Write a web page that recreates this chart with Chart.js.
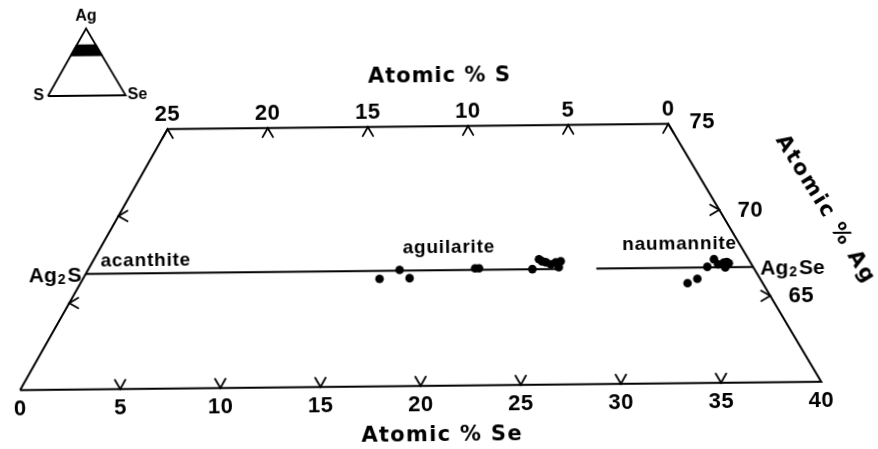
<!DOCTYPE html>
<html><head><meta charset="utf-8">
<script src="https://cdn.jsdelivr.net/npm/chart.js@4.4.0/dist/chart.umd.min.js"></script>
<style>
html,body{margin:0;padding:0;background:#fff;overflow:hidden}
#wrap{position:relative;width:878px;height:449px;transform:rotate(-0.6deg);transform-origin:50% 50%}
#main{position:absolute;left:0;top:0}
#inset{position:absolute;left:1px;top:-3px}
</style></head><body>
<div id="wrap"><canvas id="main" width="878" height="449"></canvas><canvas id="inset" width="160" height="110"></canvas></div>
<script>
// ---------- data ----------
const seTicks = [0, 5, 10, 15, 20, 25, 30, 35, 40];     // Atomic % Se (bottom, Ag = 60)
const sTicks = [25, 20, 15, 10, 5, 0];                   // Atomic % S (top, Ag = 75)
const agTicks = [70, 65];                                // Atomic % Ag (sides)
const agMin = 60, agMax = 75;                            // Ag range of the section
const agTie = 200 / 3;                                   // Ag2S – Ag2Se join
const tieStartSe = [0, 25.5];
const tieEndSe = [23.6, 100 / 3];
const aguilariteSe = [14.90, 15.65, 16.39, 19.40, 19.60, 22.30, 22.35, 22.56, 22.78, 23.09, 23.28, 23.50, 23.57];
const aguilariteAg = [66.21, 66.72, 66.23, 66.76, 66.76, 66.68, 67.25, 67.13, 67.07, 66.95, 67.06, 67.12, 66.78];
const naumanniteSe = [30.49, 30.86, 31.02, 31.14, 31.49, 31.73, 31.94, 31.87, 32.00];
const naumanniteAg = [65.78, 66.02, 66.71, 67.14, 66.85, 66.95, 66.66, 66.98, 66.90];

// ---------- ternary helpers ----------
const H = Math.sqrt(3) / 2;
const tern = (se, ag) => ({ x: se + ag / 2, y: ag * H });
const outline = [[0, agMin], [100 - agMin, agMin], [100 - agMax, agMax], [0, agMax], [0, agMin]].map(p => tern(p[0], p[1]));
const pts = (se, ag) => se.map((v, i) => tern(v, ag[i]));
const FONT = '"Liberation Sans", Arial, sans-serif';
const FONT2 = '"DejaVu Sans", sans-serif';

const lineDs = (data) => ({ data, showLine: true, borderColor: '#000', borderWidth: 2, pointRadius: 0, fill: false, tension: 0 });

function chevron(ctx, px, py, ang) {
  const L = 10.5, a = Math.PI / 6;
  ctx.beginPath();
  ctx.moveTo(px - L * Math.cos(ang - a), py - L * Math.sin(ang - a));
  ctx.lineTo(px, py);
  ctx.lineTo(px - L * Math.cos(ang + a), py - L * Math.sin(ang + a));
  ctx.stroke();
}
function txt(ctx, s, x, y, size, align, spacing, base, fam) {
  ctx.font = 'bold ' + size + 'px ' + (fam || FONT);
  ctx.textAlign = align || 'center';
  ctx.textBaseline = base || 'middle';
  try { ctx.letterSpacing = (spacing || 0) + 'px'; } catch (e) {}
  ctx.fillText(s, x, y);
}
function formula(ctx, a, b, x, y, align) {
  // draws e.g. Ag2S with a lowered small "2"
  ctx.textBaseline = 'alphabetic';
  try { ctx.letterSpacing = '0px'; } catch (e) {}
  ctx.font = 'bold 21px ' + FONT; const wa = ctx.measureText(a).width;
  const wb = ctx.measureText(b).width;
  ctx.font = 'bold 14px ' + FONT; const w2 = ctx.measureText('2').width;
  const total = wa + w2 + 3 + wb;
  let x0 = align === 'right' ? x - total : x;
  ctx.textAlign = 'left';
  ctx.font = 'bold 21px ' + FONT; ctx.fillText(a, x0, y + 7.5);
  ctx.font = 'bold 14px ' + FONT; ctx.fillText('2', x0 + wa + 1, y + 9.5);
  ctx.font = 'bold 21px ' + FONT; ctx.fillText(b, x0 + wa + w2 + 3, y + 7.5);
}

const decor = {
  id: 'decor',
  afterDatasetsDraw(chart) {
    const { ctx, scales: { x: xs, y: ys }, chartArea } = chart;
    const P = (se, ag) => { const t = tern(se, ag); return [xs.getPixelForValue(t.x), ys.getPixelForValue(t.y)]; };
    ctx.save();
    ctx.strokeStyle = '#000'; ctx.fillStyle = '#000'; ctx.lineWidth = 1.8; ctx.lineCap = 'round';
    // chevron tick marks
    seTicks.slice(1, -1).forEach(se => { const [px, py] = P(se, agMin); chevron(ctx, px, py, Math.PI / 2); });
    sTicks.forEach(s => { const [px, py] = P(100 - agMax - s, agMax); chevron(ctx, px, py, -Math.PI / 2); });
    agTicks.forEach(ag => { const [px, py] = P(0, ag); chevron(ctx, px, py, Math.PI); });
    agTicks.forEach(ag => { const [px, py] = P(100 - ag, ag); chevron(ctx, px, py, 0); });
    // tick labels
    seTicks.forEach(se => { const [px, py] = P(se, agMin); txt(ctx, String(se), px, py + 19, 22, 'center', 0.5); });
    sTicks.forEach(s => { const [px, py] = P(100 - agMax - s, agMax); txt(ctx, String(s), px, py - 14, 22, 'center', 0.5); });
    agTicks.forEach(ag => { const [px, py] = P(100 - ag, ag); txt(ctx, String(ag), px + 31, py + 1, 22, 'center', 0.5); });
    { const [px, py] = P(100 - agMax, agMax); txt(ctx, String(agMax), px + 34, py - 1, 22, 'center', 0.5); }
    // axis titles
    const cx = (chartArea.left + chartArea.right) / 2;
    { const [, py] = P(0, agMax); txt(ctx, 'Atomic % S', cx + 2, py - 50, 21, 'center', 1, 'middle', FONT2); }
    { const [, py] = P(0, agMin); txt(ctx, 'Atomic % Se', cx + 1, py + 50, 21, 'center', 1.3, 'middle', FONT2); }
    {
      const [px, py] = P(100 - agTicks[0], agTicks[0]);
      const [bx, by] = P(100 - agMin, agMin), [tx, ty] = P(100 - agMax, agMax);
      ctx.save(); ctx.translate(px + 106, py + 1); ctx.rotate(Math.atan2(by - ty, bx - tx) - 0.02);
      txt(ctx, 'Atomic % Ag', 0, 0, 21, 'center', 2, 'middle', FONT2); ctx.restore();
    }
    // compound and phase labels
    { const [px, py] = P(0, agTie); formula(ctx, 'Ag', 'S', px - 4, py, 'right'); txt(ctx, 'acanthite', px + 15, py - 7.5, 19, 'left', 0.8, 'alphabetic'); }
    { const [px, py] = P(100 - agTie, agTie); formula(ctx, 'Ag', 'Se', px + 7, py, 'left'); }
    { const [px, py] = P(18.15, agTie); txt(ctx, 'aguilarite', px, py - 17, 19, 'center', 0.8, 'alphabetic'); }
    { const [px, py] = P(29.67, agTie); txt(ctx, 'naumannite', px, py - 18.5, 19, 'center', 0.8, 'alphabetic'); }
    ctx.restore();
  }
};

Chart.defaults.animation = false;
new Chart(document.getElementById('main'), {
  type: 'scatter',
  data: {
    datasets: [
      lineDs(outline),
      ...tieStartSe.map((s, i) => lineDs([tern(s, agTie), tern(tieEndSe[i], agTie)])),
      { label: 'aguilarite', data: pts(aguilariteSe, aguilariteAg), pointRadius: 4.3, backgroundColor: '#000', borderColor: '#000', borderWidth: 0 },
      { label: 'naumannite', data: pts(naumanniteSe, naumanniteAg), pointRadius: 4.3, backgroundColor: '#000', borderColor: '#000', borderWidth: 0 }
    ]
  },
  options: {
    responsive: false, events: [], layout: { padding: 0 },
    plugins: { legend: { display: false }, tooltip: { enabled: false } },
    scales: {
      x: { type: 'linear', display: false, min: 29.298, max: 72.704 },
      y: { type: 'linear', display: false, min: 49.004, max: 71.058 }
    }
  },
  plugins: [decor]
});

// ---------- inset key triangle ----------
const insetDecor = {
  id: 'insetDecor',
  beforeDatasetsDraw(chart) {
    // fill the band (first dataset polygon) using the points placed by the scales
    const { ctx } = chart;
    const els = chart.getDatasetMeta(0).data;
    ctx.save(); ctx.fillStyle = '#000'; ctx.beginPath();
    els.forEach((e, i) => i ? ctx.lineTo(e.x, e.y) : ctx.moveTo(e.x, e.y));
    ctx.closePath(); ctx.fill(); ctx.restore();
  },
  afterDatasetsDraw(chart) {
    const { ctx, scales: { x: xs, y: ys } } = chart;
    const P = (se, ag) => { const t = tern(se, ag); return [xs.getPixelForValue(t.x), ys.getPixelForValue(t.y)]; };
    ctx.save(); ctx.fillStyle = '#000';
    { const [px, py] = P(0, 100); txt(ctx, 'Ag', px, py - 12, 16, 'center', 0); }
    { const [px, py] = P(0, 0); txt(ctx, 'S', px - 4, py, 16, 'right', 0); }
    { const [px, py] = P(100, 0); txt(ctx, 'Se', px + 2, py, 16, 'left', 0); }
    ctx.restore();
  }
};
new Chart(document.getElementById('inset'), {
  type: 'scatter',
  data: {
    datasets: [
      { data: [[0, agMin], [100 - agMin, agMin], [100 - agMax, agMax], [0, agMax], [0, agMin]].map(p => tern(p[0], p[1])),
        showLine: true, borderColor: '#000', borderWidth: 1.5, pointRadius: 0, fill: false, tension: 0 },
      { data: [tern(0, 0), tern(100, 0), tern(0, 100), tern(0, 0)], showLine: true, borderColor: '#000', borderWidth: 1.8, pointRadius: 0, fill: false, tension: 0 }
    ]
  },
  options: {
    responsive: false, events: [], layout: { padding: 0 },
    plugins: { legend: { display: false }, tooltip: { enabled: false } },
    scales: {
      x: { type: 'linear', display: false, min: -62.16, max: 143.76 },
      y: { type: 'linear', display: false, min: -19.31, max: 122.27 }
    }
  },
  plugins: [insetDecor]
});
</script>
</body></html>
